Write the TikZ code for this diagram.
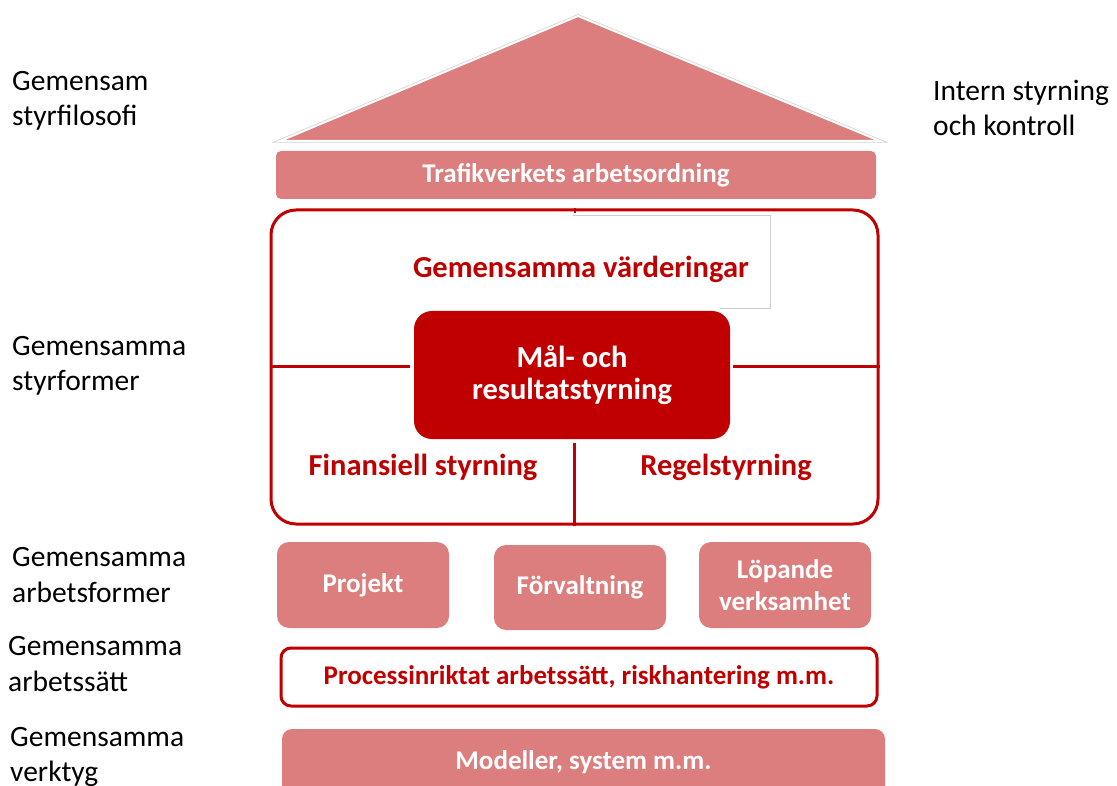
\documentclass[tikz,border=0pt]{standalone}
\usepackage{fontspec}
\setmainfont{Carlito}
\usetikzlibrary{calc}
\definecolor{rose}{RGB}{221,126,126}
\definecolor{deepred}{RGB}{192,0,0}
\begin{document}
\begin{tikzpicture}[x=1pt,y=-1pt,
  lbl/.style={anchor=west, align=left, inner sep=0pt,
    font=\fontsize{29.5}{35.5}\selectfont},
  rosebox/.style={fill=rose, draw=none, rounded corners=#1, text=white,
    align=center, inner sep=0pt, font=\bfseries\fontsize{27}{32}\selectfont},
  redtext/.style={text=deepred, inner sep=0pt,
    font=\bfseries\fontsize{30.5}{34}\selectfont},
  divider/.style={draw=deepred, line width=3pt}
]
\useasboundingbox (0,0) rectangle (1117,786);

% layer labels
\node[lbl] (l1) at (12,101)  {Gemensam\\styrfilosofi};
\node[lbl] (l2) at (12,366) {Gemensamma\\styrformer};
\node[lbl] (l3) at (12,575) {Gemensamma\\arbetsformer};
\node[lbl] (l4) at (8,664)  {Gemensamma\\arbetssätt};
\node[lbl] (r1) at (933,108) {Intern styrning\\och kontroll};
\node[lbl] (l5) at (10,757) {Gemensamma\\verktyg};

% roof
\draw[gray!35, line width=3.5pt, line join=miter] (280,141) -- (578,16) -- (880,141) -- cycle;
\filldraw[fill=rose, draw=white, line width=2pt] (280,141) -- (578,16) -- (880,141) -- cycle;

\node[rosebox=5pt, minimum width=600, minimum height=48] (ordning) at (576,175)
  {Trafikverkets arbetsordning};

% governance frame
\node[draw=deepred, line width=3pt, fill=white, rounded corners=25pt,
  minimum width=607, minimum height=314] (frame) at (574.5,367) {};
\draw[gray!40, line width=0.8pt] (573,215) -- (770,215) -- (770,308) -- (720,308);
\node[redtext] (varden) at (581,269) {Gemensamma värderingar};

\node[fill=deepred, rounded corners=18pt, minimum width=316, minimum height=128,
  text=white, align=center, inner sep=0pt,
  font=\bfseries\fontsize{30.5}{32}\selectfont] (mal) at (572,375)
  {Mål- och\\resultatstyrning};

\coordinate (divy) at (0,367);
\draw[divider] (frame.west |- divy) -- ($(mal.west |- divy)+(-4,0)$);
\draw[divider] ($(mal.east |- divy)+(3,0)$) -- (frame.east |- divy);
\draw[divider] ($(frame.south |- mal.south)+(0,4)$) -- (frame.south);
\draw[draw=deepred, line width=2pt] (frame.north) -- ++(0,5);

\node[redtext] (fin) at (423,467) {Finansiell styrning};
\node[redtext] (regel) at (726,467) {Regelstyrning};

% working forms
\node[rosebox=12pt, minimum width=172, minimum height=86] (projekt) at (363,585) {Projekt};
\node[rosebox=12pt, minimum width=172, minimum height=85] (forv) at (580,587.5) {Förvaltning};
\node[rosebox=12pt, minimum width=172, minimum height=86] (lop) at (785,585) {Löpande\\verksamhet};

\node[draw=deepred, line width=3pt, fill=white, rounded corners=10pt,
  minimum width=596, minimum height=58, inner sep=0pt,
  text=deepred, font=\bfseries\fontsize{27}{30}\selectfont] (process) at (579,677)
  {Processinriktat arbetssätt, riskhantering m.m.};

\node[rosebox=10pt, minimum width=603, minimum height=67] (verktyg) at (583.5,762.5)
  {\raisebox{4pt}{Modeller, system m.m.}};
\end{tikzpicture}
\end{document}
